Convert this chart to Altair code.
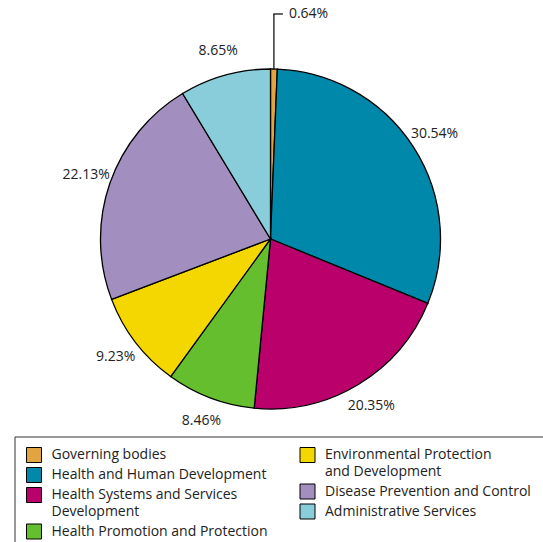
import math
import altair as alt
import pandas as pd

# ---- data ----
categories = [
    "Governing bodies",
    "Health and Human Development",
    "Health Systems and Services Development",
    "Health Promotion and Protection",
    "Environmental Protection and Development",
    "Disease Prevention and Control",
    "Administrative Services",
]
shares = [0.64, 30.54, 20.35, 8.46, 9.23, 22.13, 8.65]
colors = ["#E2A43E", "#0088AA", "#B9006B", "#64BE2E", "#F5D700", "#A28FC0", "#88CDD9"]
legend_lines = [
    ["Governing bodies"],
    ["Health and Human Development"],
    ["Health Systems and Services", "Development"],
    ["Health Promotion and Protection"],
    ["Environmental Protection", "and Development"],
    ["Disease Prevention and Control"],
    ["Administrative Services"],
]
legend_column = [0, 0, 0, 0, 1, 1, 1]

# ---- layout ----
FONT = "Open Sans"
W, H = 541, 478
CX, CY = W / 2, H / 2
R = 170
LABEL_R = 195
LEADER_TOP = 14
LEADER_LEN = 9
LEG_TOP = 455
LEG_STEP = 16.5
LEG_GAP = 3.5
COL_SYM_X = [34, 307.5]
COL_TXT_X = [51.5, 325]

df = pd.DataFrame({
    "category": categories,
    "share": shares,
    "order": list(range(len(categories))),
    "label": [f"{s:.2f}%" for s in shares],
})

color_scale = alt.Scale(domain=categories, range=colors)

base = alt.Chart(df).encode(
    theta=alt.Theta("share:Q", stack=True),
    order=alt.Order("order:Q"),
)

arcs = base.mark_arc(outerRadius=R, stroke="black", strokeWidth=1.3).encode(
    color=alt.Color("category:N", scale=color_scale, legend=None)
)

labels = base.transform_calculate(
    txt="datum.share < 1 ? '' : datum.label"
).mark_text(radius=LABEL_R, font=FONT, fontSize=14, color="#222222").encode(
    text="txt:N"
)

# leader line for the tiny first slice
total = sum(shares)
mid = (shares[0] / 2) / total * 2 * math.pi
lx = CX + R * math.sin(mid)
ly = CY - R * math.cos(mid)
one = pd.DataFrame({"a": [0]})
lead_v = alt.Chart(one).mark_rule(color="black", strokeWidth=1.2).encode(
    x=alt.value(lx), y=alt.value(LEADER_TOP), y2=alt.value(ly)
)
lead_h = alt.Chart(one).mark_rule(color="black", strokeWidth=1.2).encode(
    x=alt.value(lx - 0.6), x2=alt.value(lx + LEADER_LEN), y=alt.value(LEADER_TOP)
)
small = df[df["share"] < 1]
small_label = alt.Chart(small).mark_text(
    align="left", baseline="middle", font=FONT, fontSize=14, color="#222222"
).encode(x=alt.value(lx + LEADER_LEN + 6), y=alt.value(LEADER_TOP), text="label:N")

# manual legend (column-major, multi-line entries)
rows = []
col_pos = {0: LEG_TOP, 1: LEG_TOP}
for cat, lines, col in zip(categories, legend_lines, legend_column):
    y = col_pos[col]
    rows.append({
        "category": cat,
        "sx": COL_SYM_X[col],
        "tx": COL_TXT_X[col],
        "y": y,
        "ytop": y - 7,
        "text": "\n".join(lines),
    })
    col_pos[col] = y + LEG_STEP * len(lines) + LEG_GAP
leg = pd.DataFrame(rows)

leg_sym = alt.Chart(leg).mark_square(size=225, stroke="black", strokeWidth=1, opacity=1).encode(
    x=alt.X("sx:Q", scale=None, axis=None),
    y=alt.Y("y:Q", scale=None, axis=None),
    color=alt.Color("category:N", scale=color_scale, legend=None),
)
leg_txt = alt.Chart(leg).mark_text(
    align="left", baseline="top", font=FONT, fontSize=14, color="#222222",
    lineBreak="\n", lineHeight=LEG_STEP,
).encode(
    x=alt.X("tx:Q", scale=None, axis=None),
    y=alt.Y("ytop:Q", scale=None, axis=None),
    text="text:N",
)
box = alt.Chart(one).mark_rect(filled=False, stroke="#333333", strokeWidth=1).encode(
    x=alt.value(15), x2=alt.value(620), y=alt.value(437), y2=alt.value(620)
)

chart = alt.layer(
    arcs, labels, lead_v, lead_h, small_label, box, leg_sym, leg_txt
).properties(
    width=W, height=H, autosize="none",
    padding={"left": 0, "top": 0, "right": 2, "bottom": 64},
    background="white",
).configure_view(strokeWidth=0)

chart.save("out.html", embed_options={"renderer": "svg", "actions": False})
